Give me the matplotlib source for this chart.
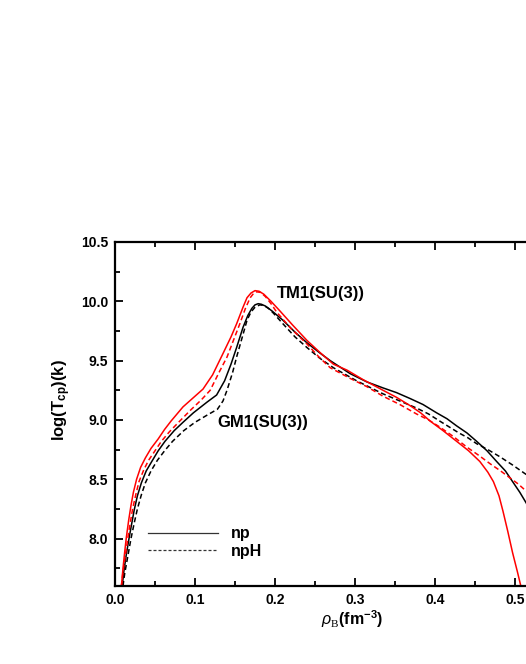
import matplotlib
matplotlib.use("Agg")
import matplotlib.pyplot as plt
from matplotlib.lines import Line2D

plt.rcParams['font.family'] = ['Liberation Sans', 'DejaVu Sans']
plt.rcParams['mathtext.fontset'] = 'custom'
plt.rcParams['mathtext.rm'] = 'Liberation Serif'
plt.rcParams['mathtext.bf'] = 'Liberation Sans:bold'
plt.rcParams['mathtext.it'] = 'Liberation Sans:italic'

# TM1(SU(3)) np  (red solid)
tm1_np_x = [0.008, 0.010, 0.012, 0.014, 0.017, 0.020, 0.023, 0.027, 0.032, 0.038, 0.045, 0.054,
            0.062, 0.070, 0.085, 0.100, 0.110, 0.122, 0.135, 0.145, 0.152, 0.160, 0.165, 0.170,
            0.175, 0.180, 0.186, 0.195, 0.206, 0.222, 0.240, 0.256, 0.273, 0.290, 0.310, 0.335,
            0.352, 0.369, 0.382, 0.394, 0.410, 0.427, 0.442, 0.456, 0.466, 0.473, 0.480, 0.485,
            0.491, 0.497, 0.503, 0.508]
tm1_np_y = [7.60, 7.75, 7.88, 8.00, 8.15, 8.28, 8.39, 8.50, 8.60, 8.68, 8.76, 8.84,
            8.92, 8.99, 9.11, 9.20, 9.26, 9.38, 9.56, 9.70, 9.81, 9.95, 10.03, 10.07,
            10.09, 10.085, 10.06, 10.00, 9.92, 9.80, 9.67, 9.57, 9.47, 9.42, 9.34, 9.25,
            9.19, 9.12, 9.06, 8.99, 8.91, 8.82, 8.74, 8.65, 8.56, 8.48, 8.36, 8.23,
            8.06, 7.88, 7.72, 7.58]

# TM1(SU(3)) npH (red dashed)
tm1_nph_x = [0.008, 0.010, 0.013, 0.016, 0.019, 0.022, 0.026, 0.030, 0.036, 0.042, 0.050, 0.058,
             0.068, 0.078, 0.094, 0.108, 0.119, 0.130, 0.140, 0.148, 0.156, 0.163, 0.169, 0.173,
             0.177, 0.182, 0.188, 0.195, 0.202, 0.220, 0.240, 0.255, 0.269, 0.294, 0.315, 0.335,
             0.356, 0.377, 0.392, 0.406, 0.423, 0.440, 0.455, 0.469, 0.482, 0.494, 0.504, 0.514,
             0.530]
tm1_nph_y = [7.60, 7.72, 7.86, 8.00, 8.13, 8.25, 8.37, 8.48, 8.58, 8.66, 8.74, 8.82,
             8.90, 8.97, 9.08, 9.17, 9.25, 9.40, 9.53, 9.67, 9.81, 9.94, 10.03, 10.065,
             10.08, 10.075, 10.04, 9.98, 9.91, 9.77, 9.64, 9.53, 9.44, 9.35, 9.28, 9.20,
             9.13, 9.05, 9.00, 8.94, 8.86, 8.77, 8.70, 8.63, 8.57, 8.51, 8.46, 8.40,
             8.30]

# GM1(SU(3)) np (black solid)
gm1_np_x = [0.009, 0.011, 0.014, 0.0175, 0.021, 0.024, 0.028, 0.033, 0.039, 0.046, 0.054, 0.0625,
            0.074, 0.085, 0.098, 0.115, 0.127, 0.137, 0.145, 0.152, 0.160, 0.166, 0.171, 0.175,
            0.179, 0.183, 0.188, 0.196, 0.210, 0.225, 0.240, 0.255, 0.269, 0.294, 0.315, 0.335,
            0.352, 0.369, 0.385, 0.402, 0.415, 0.427, 0.440, 0.452, 0.465, 0.477, 0.488, 0.497,
            0.506, 0.514, 0.525]
gm1_np_y = [7.60, 7.72, 7.86, 8.00, 8.13, 8.24, 8.36, 8.47, 8.57, 8.65, 8.74, 8.82,
            8.91, 8.98, 9.06, 9.15, 9.21, 9.33, 9.47, 9.61, 9.78, 9.88, 9.94, 9.97,
            9.98, 9.975, 9.96, 9.92, 9.84, 9.74, 9.65, 9.57, 9.50, 9.39, 9.32, 9.27,
            9.23, 9.18, 9.13, 9.06, 9.01, 8.95, 8.89, 8.82, 8.74, 8.65, 8.57, 8.48,
            8.39, 8.30, 8.15]

# GM1(SU(3)) npH (black dashed)
gm1_nph_x = [0.010, 0.012, 0.016, 0.020, 0.024, 0.028, 0.033, 0.038, 0.045, 0.053, 0.062, 0.072,
             0.086, 0.100, 0.115, 0.128, 0.135, 0.140, 0.147, 0.152, 0.160, 0.165, 0.170, 0.175,
             0.181, 0.186, 0.192, 0.198, 0.210, 0.225, 0.240, 0.256, 0.273, 0.302, 0.335, 0.356,
             0.377, 0.392, 0.406, 0.418, 0.430, 0.441, 0.452, 0.466, 0.481, 0.497, 0.514, 0.530]
gm1_nph_y = [7.60, 7.70, 7.85, 8.00, 8.13, 8.25, 8.37, 8.47, 8.57, 8.66, 8.74, 8.82,
             8.91, 8.98, 9.04, 9.09, 9.16, 9.25, 9.40, 9.53, 9.72, 9.84, 9.91, 9.95,
             9.97, 9.965, 9.94, 9.90, 9.81, 9.70, 9.61, 9.52, 9.44, 9.33, 9.22, 9.16,
             9.10, 9.05, 8.99, 8.94, 8.89, 8.85, 8.80, 8.75, 8.69, 8.62, 8.54, 8.46]

x_ticks = [0.0, 0.1, 0.2, 0.3, 0.4, 0.5]
y_ticks = [8.0, 8.5, 9.0, 9.5, 10.0, 10.5]

fig = plt.figure(figsize=(5.26, 6.64), dpi=100)
ax = fig.add_axes([115/526, 78/664, 480/526, 344/664])

lw = 1.1
dash = (0, (3.3, 2.0))
ax.plot(gm1_np_x, gm1_np_y, color='black', lw=lw)
ax.plot(gm1_nph_x, gm1_nph_y, color='black', lw=lw, ls=dash)
ax.plot(tm1_np_x, tm1_np_y, color='red', lw=lw)
ax.plot(tm1_nph_x, tm1_nph_y, color='red', lw=lw, ls=dash)

ax.set_xlim(0.0, 0.6)
ax.set_ylim(7.6, 10.5)
ax.set_xticks(x_ticks)
ax.set_yticks(y_ticks)
ax.set_xticklabels([f"{v:.1f}" for v in x_ticks])
ax.set_yticklabels([f"{v:.1f}" for v in y_ticks])
ax.set_xticks([0.05 + 0.1 * i for i in range(6)], minor=True)
ax.set_yticks([7.75 + 0.5 * i for i in range(6)], minor=True)
ax.tick_params(which='both', direction='in', top=True, right=True, width=1.3)
ax.tick_params(which='major', length=6, labelsize=10, pad=5)
ax.tick_params(which='minor', length=3.5)
for lab in ax.get_xticklabels() + ax.get_yticklabels():
    lab.set_fontweight('bold')
for s in ax.spines.values():
    s.set_linewidth(1.6)

ax.text(0.2025, 10.07, 'TM1(SU(3))', fontsize=12, fontweight='bold', va='center', ha='left')
ax.text(0.1275, 8.98, 'GM1(SU(3))', fontsize=12, fontweight='bold', va='center', ha='left')

handles = [Line2D([], [], color='#333333', lw=0.9),
           Line2D([], [], color='#333333', lw=0.9, ls=(0, (2.4, 1.6)))]
leg = ax.legend(handles, ['np', 'npH'], loc='upper left', bbox_to_anchor=(0.0696, 0.174),
                frameon=False, handlelength=4.36, handletextpad=0.8, labelspacing=0.15,
                borderaxespad=0, borderpad=0, prop={'weight': 'bold', 'size': 11.5})

fig.text(62/526, 1 - 400/664, r'log(T$_{\mathbf{cp}}$)(k)', rotation=90, fontsize=12,
         fontweight='bold', ha='center', va='center')
fig.text(352/526, 1 - 619/664, r'$\rho_{\mathrm{B}}$(fm$^{\mathbf{-3}}$)', fontsize=11.5,
         fontweight='bold', ha='center', va='center')

fig.savefig('out.png', dpi=100)
